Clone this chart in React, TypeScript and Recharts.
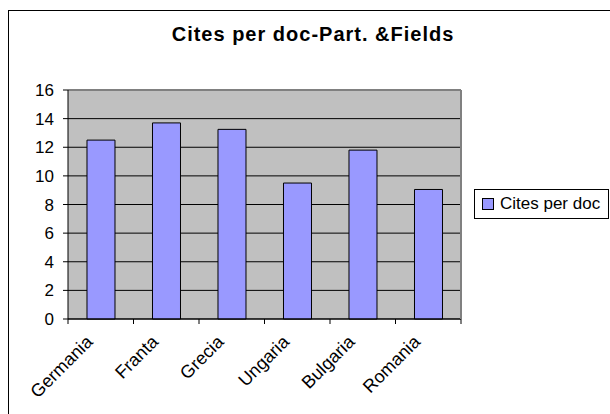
import React from 'react';
import { BarChart, Bar, XAxis, YAxis, CartesianGrid, Legend } from 'recharts';

const countries = ['Germania', 'Franta', 'Grecia', 'Ungaria', 'Bulgaria', 'Romania'];
const citesPerDoc = [12.5, 13.7, 13.25, 9.5, 11.8, 9.05];
const yTicks = [0, 2, 4, 6, 8, 10, 12, 14, 16];
const boundaryTicks = [0, 1, 2, 3, 4, 5, 6];
const seriesName = 'Cites per doc';
const title = 'Cites per doc-Part. &Fields';

const data = countries.map((c, i) => ({ country: c, value: citesPerDoc[i], pos: i + 0.5 }));

const FONT = 'Arial, "Liberation Sans", sans-serif';

const CatTick = (props: any) => {
  const { x, y, payload } = props;
  const ax = x - 7;
  const ay = y + 15;
  return (
    <text
      x={ax}
      y={ay}
      transform={`rotate(-45 ${ax} ${ay})`}
      textAnchor="end"
      fontSize={18}
      fontFamily={FONT}
      fill="#000"
    >
      {payload.value}
    </text>
  );
};

const LegendBox = () => (
  <div
    style={{
      width: 133,
      height: 28,
      border: '1px solid #000',
      background: '#fff',
      display: 'flex',
      alignItems: 'center',
      fontFamily: FONT,
      fontSize: 17,
      color: '#000',
      boxSizing: 'content-box',
      whiteSpace: 'nowrap',
    }}
  >
    <span
      style={{
        display: 'inline-block',
        width: 10,
        height: 10,
        background: '#9999FF',
        border: '1px solid #000',
        marginLeft: 7,
        marginRight: 6,
      }}
    />
    <span>{seriesName}</span>
  </div>
);

export default function App() {
  return (
    <div style={{ position: 'absolute', left: 0, top: 0, width: 610, height: 414, background: '#fff', overflow: 'hidden' }}>
      <div
        style={{
          position: 'absolute',
          left: 8,
          top: 10,
          width: 700,
          height: 500,
          borderTop: '1px solid #000',
          borderLeft: '1px solid #000',
        }}
      />
      <div
        style={{
          position: 'absolute',
          left: 0,
          top: 23,
          width: 626,
          textAlign: 'center',
          fontFamily: FONT,
          fontWeight: 'bold',
          fontSize: 20,
          letterSpacing: 1,
          color: '#000',
        }}
      >
        {title}
      </div>
      <div style={{ position: 'absolute', left: 0, top: 0 }}>
        <BarChart
          width={610}
          height={414}
          data={data}
          margin={{ top: 89, right: 148, left: 8, bottom: 0 }}
          barCategoryGap="29%"
        >
          <CartesianGrid vertical={false} stroke="#000" fill="#C0C0C0" fillOpacity={1} />
          <XAxis
            dataKey="pos"
            type="number"
            domain={[0, 6]}
            ticks={boundaryTicks}
            allowDataOverflow
            height={1}
            tickSize={5}
            tickFormatter={() => ''}
            stroke="#000"
          />
          <XAxis
            xAxisId="cat"
            dataKey="country"
            height={94}
            axisLine={false}
            tickLine={false}
            interval={0}
            tick={<CatTick />}
          />
          <XAxis xAxisId="top" orientation="top" height={1} tick={false} tickLine={false} axisLine={{ stroke: '#808080', strokeWidth: 2 }} />
          <YAxis
            domain={[0, 16]}
            ticks={yTicks}
            width={60}
            interval={0}
            tickSize={5}
            tickMargin={9}
            stroke="#000"
            tick={{ fontSize: 17, fontFamily: FONT, fill: '#000' }}
          />
          <YAxis yAxisId="right" orientation="right" width={1} tick={false} tickLine={false} axisLine={{ stroke: '#808080', strokeWidth: 2 }} />
          <Legend
            layout="horizontal"
            verticalAlign="middle"
            align="center"
            content={<LegendBox />}
            wrapperStyle={{ position: 'absolute', left: 474, top: 189, width: 'auto' }}
          />
          <Bar
            xAxisId="cat"
            dataKey="value"
            name={seriesName}
            fill="#9999FF"
            stroke="#000"
            strokeWidth={1}
            isAnimationActive={false}
          />
        </BarChart>
      </div>
    </div>
  );
}
